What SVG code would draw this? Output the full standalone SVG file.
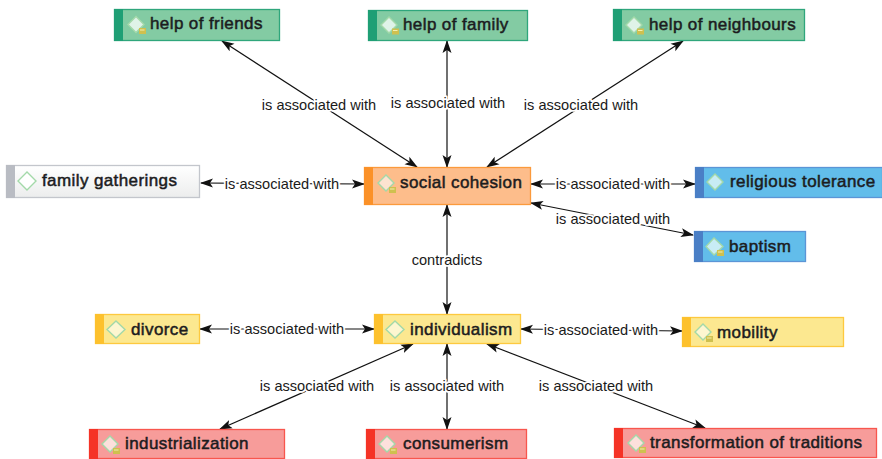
<svg xmlns="http://www.w3.org/2000/svg" width="882" height="459" viewBox="0 0 882 459">
<style>
.n{stroke-width:1.3}
.t{font:17px "Liberation Sans",Arial,sans-serif;letter-spacing:.4px;fill:#1c1c1e;stroke:#1c1c1e;stroke-width:.5}
.l{font:14.6px "Liberation Sans",Arial,sans-serif;fill:#1a1a1a;text-anchor:middle;stroke:#fff;stroke-width:3.5;paint-order:stroke;stroke-linejoin:round}
.c line{stroke:#111;stroke-width:1.2;marker-start:url(#a);marker-end:url(#a)}
.green{fill:#83cba3;stroke:#2fa67c}.green-s{fill:#1f9f75}
.orange{fill:#fdbd8b;stroke:#fb9a3c}.orange-s{fill:#fb9128}
.gray{fill:url(#g);stroke:#c3c6cc}.gray-s{fill:#b9bcc3}
.blue{fill:#62bdea;stroke:#5b95d6}.blue-s{fill:#4a7fc6}
.yellow{fill:#fce890;stroke:#fdc93f}.yellow-s{fill:#fdc12d}
.red{fill:#f79c9a;stroke:#f8564e}.red-s{fill:#f53326}
.d{stroke:#a3d9a9;stroke-width:1.4}
</style>
<defs>
<marker id="a" viewBox="0 0 13 10" refX="12" refY="5" markerWidth="13" markerHeight="10" markerUnits="userSpaceOnUse" orient="auto-start-reverse"><path d="M0 0.5L13 5L0 9.500L3 5Z" fill="#111"/></marker>
<linearGradient id="g" x1="0" y1="0" x2="0" y2="1"><stop offset="0" stop-color="#fff"/><stop offset="1" stop-color="#eceded"/></linearGradient>
<g id="note"><rect x="0" y="0" width="7" height="6" fill="#cfc04f"/><rect x="1" y="1.500" width="4.500" height="1" fill="#f4eeb0"/></g>
</defs>
<g class="c" id="connectors">
<line x1="222" y1="41" x2="417" y2="167"/>
<line x1="447" y1="41" x2="447" y2="167"/>
<line x1="683" y1="41" x2="487" y2="167"/>
<line x1="201" y1="183" x2="364" y2="184"/>
<line x1="531" y1="184" x2="695" y2="184"/>
<line x1="531" y1="203" x2="693" y2="235"/>
<line x1="447" y1="205" x2="447" y2="314"/>
<line x1="200" y1="329" x2="374" y2="329"/>
<line x1="521" y1="329" x2="682" y2="331"/>
<line x1="413" y1="344" x2="220" y2="429"/>
<line x1="447" y1="344" x2="447" y2="429"/>
<line x1="487" y1="344" x2="705" y2="428"/>
</g>
<g id="labels">
<text class="l" x="319" y="110">is associated with</text>
<text class="l" x="448" y="108">is associated with</text>
<text class="l" x="581" y="110">is associated with</text>
<text class="l" x="282" y="189">is associated with</text>
<text class="l" x="613" y="189">is associated with</text>
<text class="l" x="613" y="224">is associated with</text>
<text class="l" x="447" y="265">contradicts</text>
<text class="l" x="287" y="334">is associated with</text>
<text class="l" x="601" y="335">is associated with</text>
<text class="l" x="317" y="391">is associated with</text>
<text class="l" x="447" y="391">is associated with</text>
<text class="l" x="596" y="391">is associated with</text>
</g>
<g id="help-of-friends"><rect class="n green" x="114.500" y="9.500" width="165" height="31"/><rect class="green-s" x="114" y="9" width="9" height="32"/><path class="d" fill="#dff3e8" d="M136 16.500L144 24.500L136 32.500L128 24.500Z"/><use href="#note" x="139" y="28"/><text class="t" x="150" y="29">help of friends</text></g>
<g id="help-of-family"><rect class="n green" x="368.500" y="10.500" width="159" height="30"/><rect class="green-s" x="368" y="10" width="9" height="31"/><path class="d" fill="#dff3e8" d="M389 17L397 25L389 33L381 25Z"/><use href="#note" x="392" y="28.500"/><text class="t" x="403" y="30">help of family</text></g>
<g id="help-of-neighbours"><rect class="n green" x="613.500" y="9.500" width="191" height="31"/><rect class="green-s" x="613" y="9" width="9" height="32"/><path class="d" fill="#dff3e8" d="M634 17L642 25L634 33L626 25Z"/><use href="#note" x="637" y="28.500"/><text class="t" x="649" y="30">help of neighbours</text></g>
<g id="family-gatherings"><rect class="n gray" x="6.500" y="165.500" width="193" height="32"/><rect class="gray-s" x="6" y="165" width="9" height="33"/><path class="d" fill="#fff" d="M27 172L36 181L27 190L18 181Z"/><text class="t" x="42" y="186">family gatherings</text></g>
<g id="social-cohesion"><rect class="n orange" x="364.500" y="167.500" width="166" height="37"/><rect class="orange-s" x="364" y="167" width="9" height="38"/><path class="d" fill="#fde3d0" d="M386 175L394 183L386 191L378 183Z"/><use href="#note" x="389" y="187"/><text class="t" x="400" y="188">social cohesion</text></g>
<g id="religious-tolerance"><rect class="n blue" x="695.500" y="167.500" width="187" height="30"/><rect class="blue-s" x="695" y="167" width="9" height="31"/><path class="d" fill="#c8ecf5" d="M715 174L723 182L715 190L707 182Z"/><text class="t" x="730" y="187">religious tolerance</text></g>
<g id="baptism"><rect class="n blue" x="694.500" y="231.500" width="111" height="30"/><rect class="blue-s" x="694" y="231" width="9" height="31"/><path class="d" fill="#c8ecf5" d="M714 238L723 246.500L714 255L706 246.500Z"/><use href="#note" x="717" y="250"/><text class="t" x="729" y="252">baptism</text></g>
<g id="divorce"><rect class="n yellow" x="95.500" y="314.500" width="104" height="29"/><rect class="yellow-s" x="95" y="314" width="9" height="30"/><path class="d" fill="#fdf6d0" d="M116 321L125 329.500L116 338L107 329.500Z"/><text class="t" x="131" y="335">divorce</text></g>
<g id="individualism"><rect class="n yellow" x="374.500" y="314.500" width="146" height="29"/><rect class="yellow-s" x="374" y="314" width="9" height="30"/><path class="d" fill="#fdf6d0" d="M395 321L404 329.500L395 338L386 329.500Z"/><text class="t" x="410" y="335">individualism</text></g>
<g id="mobility"><rect class="n yellow" x="682.500" y="317.500" width="161" height="29"/><rect class="yellow-s" x="682" y="317" width="9" height="30"/><path class="d" fill="#fdf6d0" d="M703 324L711 332L703 340L695 332Z"/><use href="#note" x="706" y="336"/><text class="t" x="717" y="338">mobility</text></g>
<g id="industrialization"><rect class="n red" x="89.500" y="429.500" width="195" height="29"/><rect class="red-s" x="89" y="429" width="9" height="30"/><path class="d" fill="#fde0dc" d="M110 436L118 444L110 452L102 444Z"/><use href="#note" x="113" y="448"/><text class="t" x="125" y="449">industrialization</text></g>
<g id="consumerism"><rect class="n red" x="366.500" y="429.500" width="160" height="29"/><rect class="red-s" x="366" y="429" width="9" height="30"/><path class="d" fill="#fde0dc" d="M387 436L395 444L387 452L379 444Z"/><use href="#note" x="390" y="448"/><text class="t" x="403" y="449">consumerism</text></g>
<g id="transformation-of-traditions"><rect class="n red" x="614.500" y="428.500" width="262" height="29"/><rect class="red-s" x="614" y="428" width="9" height="30"/><path class="d" fill="#fde0dc" d="M636 435L644 443L636 451L628 443Z"/><use href="#note" x="639" y="447"/><text class="t" x="650" y="448">transformation of traditions</text></g>
</svg>
